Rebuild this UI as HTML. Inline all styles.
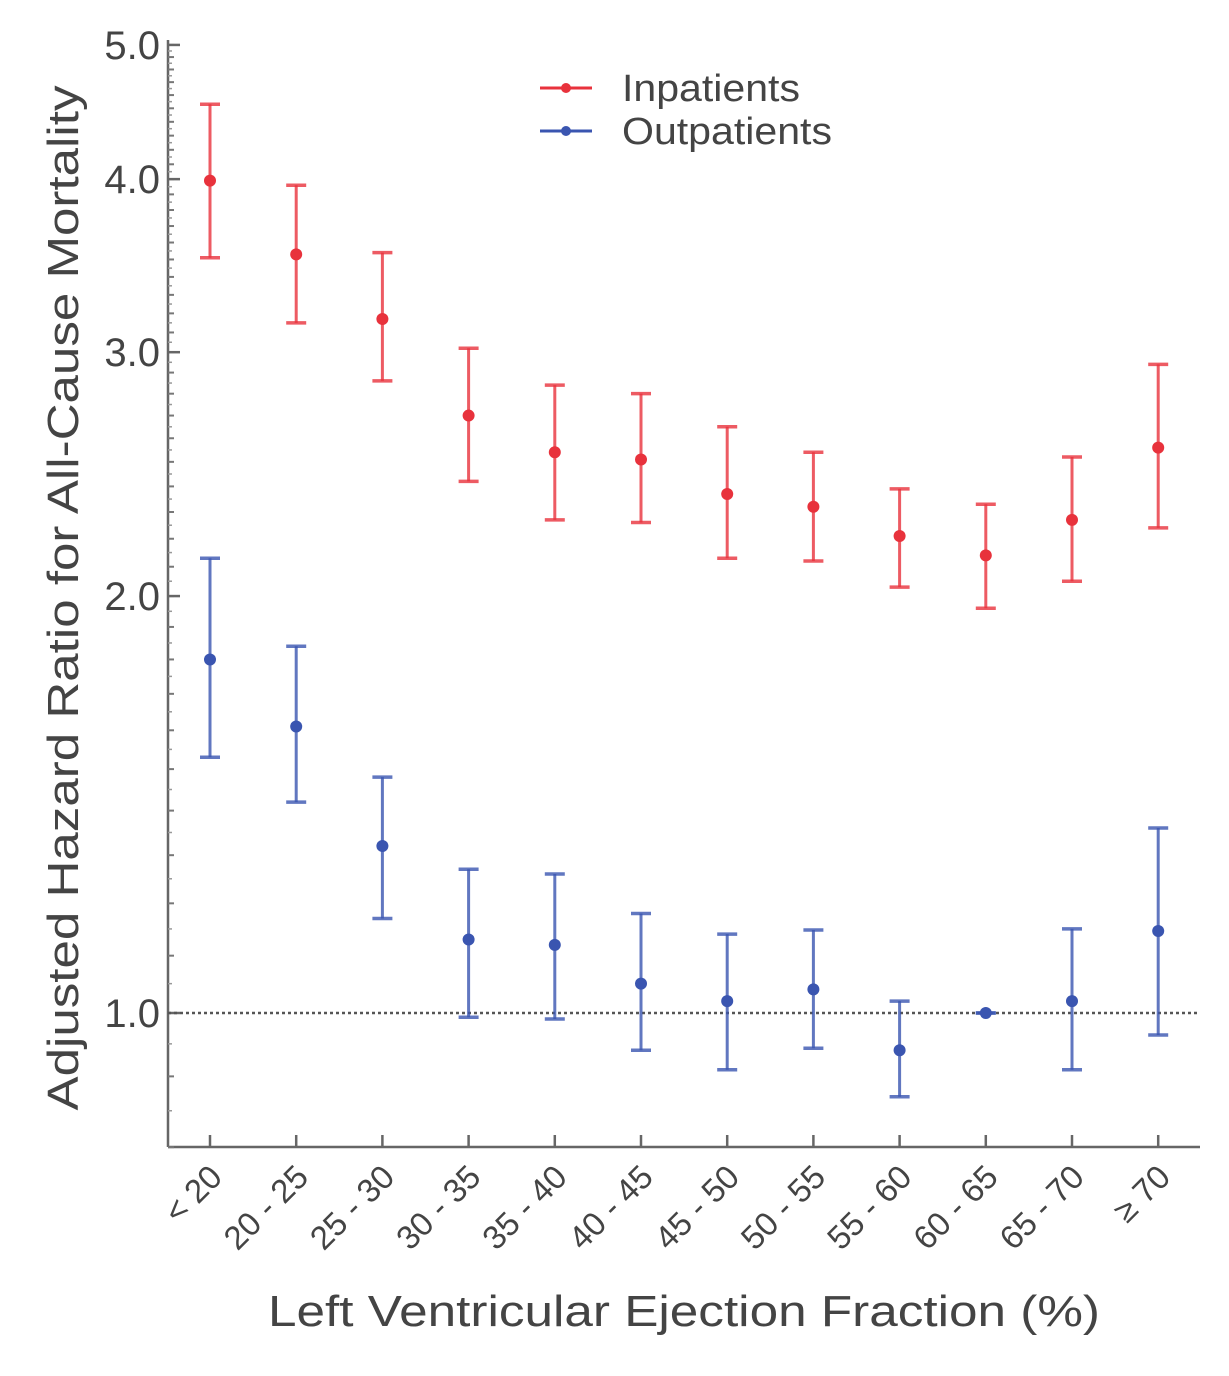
<!DOCTYPE html>
<html><head><meta charset="utf-8"><style>
body{margin:0;background:#fff;}
svg text{font-family:"Liberation Sans",sans-serif;fill:#444;}
</style></head><body>
<svg id="chart" width="1229" height="1371" viewBox="0 0 1229 1371">
<g id="axes"></g><g id="marks"></g>
<g>
<line x1="540" y1="88" x2="592" y2="88" stroke="#e8323c" stroke-width="3"/>
<circle cx="566" cy="88" r="5" fill="#e8323c"/>
<text x="622" y="101" font-size="38" textLength="178" lengthAdjust="spacingAndGlyphs">Inpatients</text>
<line x1="540" y1="131" x2="592" y2="131" stroke="#3a55b0" stroke-width="3"/>
<circle cx="566" cy="131" r="5" fill="#3a55b0"/>
<text x="622" y="144" font-size="38" textLength="210" lengthAdjust="spacingAndGlyphs">Outpatients</text>
</g>
<text x="0" y="0" font-size="44" text-anchor="middle" textLength="1025" lengthAdjust="spacingAndGlyphs" transform="translate(78,598) rotate(-90)">Adjusted Hazard Ratio for All-Cause Mortality</text>
<text x="684" y="1326" font-size="44" text-anchor="middle" textLength="832" lengthAdjust="spacingAndGlyphs">Left Ventricular Ejection Fraction (%)</text>
</svg>
<script>
const categories=["< 20","20 - 25","25 - 30","30 - 35","35 - 40","40 - 45","45 - 50","50 - 55","55 - 60","60 - 65","65 - 70","≥ 70"];
const inMid=[3.99,3.53,3.17,2.70,2.54,2.51,2.37,2.32,2.21,2.14,2.27,2.56];
const inLow=[3.51,3.15,2.86,2.42,2.27,2.26,2.13,2.12,2.03,1.96,2.05,2.24];
const inHigh=[4.53,3.96,3.54,3.02,2.84,2.80,2.65,2.54,2.39,2.33,2.52,2.94];
const outMid=[1.80,1.61,1.32,1.13,1.12,1.05,1.02,1.04,0.94,1.00,1.02,1.146];
const outLow=[1.53,1.42,1.17,0.993,0.99,0.94,0.91,0.943,0.87,1.00,0.91,0.964];
const outHigh=[2.13,1.84,1.48,1.27,1.26,1.18,1.14,1.148,1.02,1.00,1.15,1.36];
const yTicks=[1.0,2.0,3.0,4.0,5.0];
const NS="http://www.w3.org/2000/svg";
const X0=168,YB=1147,Y1=1013,K=601.5;
function xs(i){return 210+i*86.2;}
function ys(v){return Y1-Math.log(v)*K;}
function mk(tag,attrs,parent){const e=document.createElementNS(NS,tag);for(const k in attrs)e.setAttribute(k,attrs[k]);parent.appendChild(e);return e;}
const ax=document.getElementById('axes'),mg=document.getElementById('marks');
let l=mk('line',{x1:X0,y1:40,x2:X0,y2:YB,stroke:'#666','stroke-width':2.5},ax);


l=mk('line',{x1:X0,y1:YB,x2:1200,y2:YB,stroke:'#666','stroke-width':2.5},ax);


for(let k=8;k<=50;k++){const y=ys(k/10);mk('line',{x1:X0,y1:y,x2:X0+6,y2:y,stroke:'#777','stroke-width':2},ax);}
for(let k=17;k<=99;k+=2){const y=ys(k/20);mk('line',{x1:X0,y1:y,x2:X0+4,y2:y,stroke:'#999','stroke-width':1.5},ax);}
yTicks.forEach(v=>{const y=ys(v);mk('line',{x1:X0,y1:y,x2:X0+12,y2:y,stroke:'#666','stroke-width':2.5},ax);
const t=mk('text',{x:160,y:y+14,'font-size':40,'text-anchor':'end'},ax);t.textContent=v.toFixed(1);

});
l=mk('line',{x1:X0,y1:ys(1),x2:1200,y2:ys(1),stroke:'#555','stroke-width':2.5,'stroke-dasharray':'3,3'},ax);


categories.forEach((c,i)=>{const x=xs(i);mk('line',{x1:x,y1:YB,x2:x,y2:YB-12,stroke:'#666','stroke-width':2.5},ax);
const t=mk('text',{x:0,y:0,'font-size':33,'text-anchor':'end',transform:`translate(${x+14},${YB+32}) rotate(-45)`},ax);t.textContent=c;

});
function series(mid,lo,hi,col,name){mid.forEach((m,i)=>{const x=xs(i);const g=mk('g',{},mg);


mk('line',{x1:x,y1:ys(lo[i]),x2:x,y2:ys(hi[i]),stroke:col,'stroke-width':3,'stroke-opacity':0.8},g);
mk('line',{x1:x-10,y1:ys(lo[i]),x2:x+10,y2:ys(lo[i]),stroke:col,'stroke-width':3.5,'stroke-opacity':0.8},g);
mk('line',{x1:x-10,y1:ys(hi[i]),x2:x+10,y2:ys(hi[i]),stroke:col,'stroke-width':3.5,'stroke-opacity':0.8},g);
mk('circle',{cx:x,cy:ys(m),r:6,fill:col},g);});}
series(inMid,inLow,inHigh,'#e8323c','inpatients');
series(outMid,outLow,outHigh,'#3a55b0','outpatients');
</script>
</body></html>
